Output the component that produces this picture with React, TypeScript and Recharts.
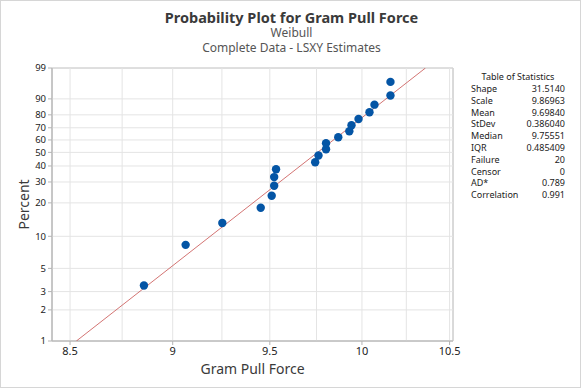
import {
  ScatterChart,
  Scatter,
  XAxis,
  YAxis,
  ReferenceLine,
  ReferenceArea,
} from "recharts";

const pullForce = [
  8.857, 9.065, 9.252, 9.452, 9.51, 9.523, 9.523, 9.533, 9.743, 9.761,
  9.802, 9.802, 9.869, 9.93, 9.942, 9.981, 10.042, 10.07, 10.16, 10.16,
];
// plotting positions in percent (median ranks)
const percentRank = [
  3.43, 8.33, 13.24, 18.14, 23.04, 27.94, 32.84, 37.75, 42.65, 47.55,
  52.45, 57.35, 62.25, 67.16, 72.06, 76.96, 81.86, 86.76, 91.67, 96.57,
];
// fitted Weibull line end points
const fitForce = [8.53, 10.36];
const fitPercent = [1, 99];

const xTicks = [8.5, 9, 9.5, 10, 10.5];
const xGrid = [8.5, 8.75, 9, 9.25, 9.5, 9.75, 10, 10.25, 10.5];
const yTicks = [1, 2, 3, 5, 10, 20, 30, 40, 50, 60, 70, 80, 90, 99];

const statLabels = [
  "Shape", "Scale", "Mean", "StDev", "Median", "IQR",
  "Failure", "Censor", "AD*", "Correlation",
];
const statValues = [
  "31.5140", "9.86963", "9.69840", "0.386040", "9.75551", "0.485409",
  "20", "0", "0.789", "0.991",
];

// Weibull probability scale: ln(-ln(1 - p))
const weib = (pct: number) => Math.log(-Math.log(1 - pct / 100));
const unweib = (w: number) => 100 * (1 - Math.exp(-Math.exp(w)));

const X_MIN = 8.415;
const X_MAX = 10.52;
const Y_MIN = weib(1);
const Y_MAX = weib(99);

const points = pullForce.map((x, i) => ({ x, y: weib(percentRank[i]) }));
const fit = fitForce.map((x, i) => ({ x, y: weib(fitPercent[i]) }));

const FONT = "'Noto Sans', 'Open Sans', sans-serif";
const GRID = "#e4e4e4";
const AXIS = "#b4b4b4";

export default function App() {
  return (
    <div
      style={{
        position: "relative",
        width: 581,
        height: 388,
        background: "#fff",
        fontFamily: FONT,
        boxSizing: "border-box",
        border: "1px solid #d6d6d6",
      }}
    >
      <style>{`body{margin:0}`}</style>
      <div
        style={{
          position: "absolute",
          top: 7,
          left: 0,
          width: 581,
          textAlign: "center",
          color: "#3a3a3a",
        }}
      >
        <div style={{ fontSize: 14.5, fontWeight: 700, lineHeight: "18px" }}>
          Probability Plot for Gram Pull Force
        </div>
        <div style={{ fontSize: 12, color: "#555", lineHeight: "14.5px" }}>
          Weibull
        </div>
        <div style={{ fontSize: 12, color: "#555", lineHeight: "14.5px" }}>
          Complete Data - LSXY Estimates
        </div>
      </div>

      <ScatterChart
        width={581}
        height={388}
        margin={{ top: 68, right: 128, bottom: 0, left: 0 }}
        style={{ position: "absolute", top: -1, left: -1 }}
      >
        <XAxis
          type="number"
          dataKey="x"
          scale="log"
          domain={[X_MIN, X_MAX]}
          ticks={xTicks}
          interval={0}
          allowDataOverflow
          height={47}
          tick={{ fontSize: 11, fill: "#222", fontFamily: FONT }}
          tickLine={{ stroke: AXIS }}
          tickSize={4}
          axisLine={{ stroke: AXIS }}
          label={{
            value: "Gram Pull Force",
            position: "insideBottom",
            offset: 14,
            fontSize: 14,
            fill: "#3a3a3a",
            fontFamily: FONT,
          }}
        />
        <YAxis
          type="number"
          dataKey="y"
          domain={[Y_MIN, Y_MAX]}
          ticks={yTicks.map(weib)}
          interval={0}
          tickFormatter={(v: number) => String(Math.round(unweib(v)))}
          allowDataOverflow
          width={52}
          tick={{ fontSize: 9.5, fill: "#222", fontFamily: FONT }}
          tickLine={{ stroke: AXIS }}
          tickSize={4}
          axisLine={{ stroke: AXIS }}
          label={{
            value: "Percent",
            angle: -90,
            position: "insideLeft",
            offset: 24,
            fontSize: 14,
            fill: "#3a3a3a",
            fontFamily: FONT,
            style: { textAnchor: "middle" },
          }}
        />
        {xGrid.map((v) => (
          <ReferenceLine key={`gx${v}`} x={v} stroke={GRID} />
        ))}
        {yTicks.map((p) => (
          <ReferenceLine key={`gy${p}`} y={weib(p)} stroke={GRID} />
        ))}
        <ReferenceArea
          x1={X_MIN}
          x2={X_MAX}
          y1={Y_MIN}
          y2={Y_MAX}
          fill="none"
          stroke={AXIS}
          fillOpacity={0}
        />
        <Scatter
          data={fit}
          line={{ stroke: "#c8504f", strokeWidth: 0.8 }}
          shape={() => <g />}
          isAnimationActive={false}
        />
        <Scatter
          data={points}
          fill="#0455a5"
          shape={(p: any) => <circle cx={p.cx} cy={p.cy} r={4.2} fill="#0455a5" />}
          isAnimationActive={false}
        />
      </ScatterChart>

      <div
        style={{
          position: "absolute",
          left: 470,
          top: 69,
          width: 94,
          fontSize: 9,
          color: "#222",
        }}
      >
        <div style={{ textAlign: "center", lineHeight: "13px" }}>
          Table of Statistics
        </div>
        {statLabels.map((l, i) => (
          <div
            key={l}
            style={{
              display: "flex",
              justifyContent: "space-between",
              lineHeight: "11.8px",
            }}
          >
            <span>{l}</span>
            <span>{statValues[i]}</span>
          </div>
        ))}
      </div>
    </div>
  );
}
